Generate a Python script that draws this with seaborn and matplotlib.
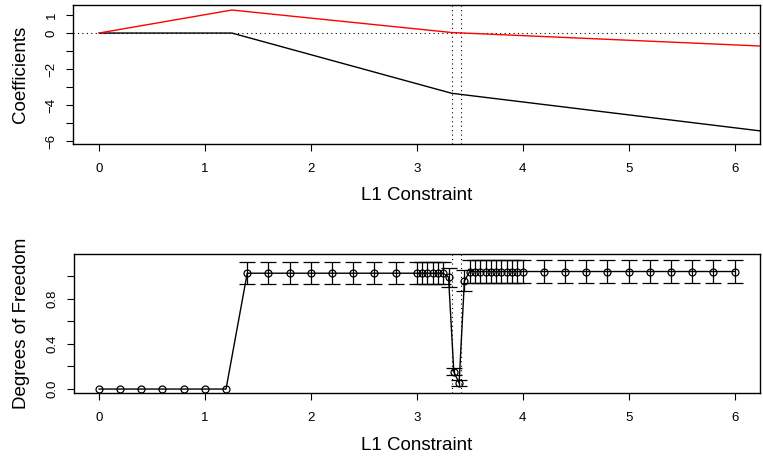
import matplotlib
matplotlib.use("Agg")
import matplotlib.pyplot as plt
import seaborn as sns
import pandas as pd

# ---------------- data ----------------
# top panel: coefficient paths vs L1 constraint
path_l1 = [0.0, 1.255, 3.33, 6.24]
coef_black = [0.0, 0.0, -3.35, -5.44]
coef_red = [0.0, 1.28, 0.03, -0.72]
knots = [3.33, 3.42]

# bottom panel: degrees of freedom with error bars
df_l1 = [0.0, 0.2, 0.4, 0.6, 0.8, 1.0, 1.2,
         1.4, 1.6, 1.8, 2.0, 2.2, 2.4, 2.6, 2.8,
         3.0, 3.05, 3.1, 3.15, 3.2, 3.25, 3.3, 3.35, 3.4, 3.45,
         3.5, 3.55, 3.6, 3.65, 3.7, 3.75, 3.8, 3.85, 3.9, 3.95, 4.0,
         4.2, 4.4, 4.6, 4.8, 5.0, 5.2, 5.4, 5.6, 5.8, 6.0]
df_mean = [0, 0, 0, 0, 0, 0, 0,
           1.025, 1.025, 1.025, 1.025, 1.025, 1.025, 1.025, 1.025,
           1.025, 1.025, 1.025, 1.025, 1.025, 1.025, 0.99, 0.153, 0.053, 0.958,
           1.04, 1.04, 1.04, 1.04, 1.04, 1.04, 1.04, 1.04, 1.04, 1.04, 1.04,
           1.04, 1.04, 1.04, 1.04, 1.04, 1.04, 1.04, 1.04, 1.04, 1.04]
df_se = [0, 0, 0, 0, 0, 0, 0,
         0.097, 0.097, 0.097, 0.097, 0.097, 0.097, 0.097, 0.097,
         0.097, 0.097, 0.097, 0.097, 0.097, 0.097, 0.085, 0.033, 0.03, 0.093,
         0.10, 0.10, 0.10, 0.10, 0.10, 0.10, 0.10, 0.10, 0.10, 0.10, 0.10,
         0.10, 0.10, 0.10, 0.10, 0.10, 0.10, 0.10, 0.10, 0.10, 0.10]

top_yticks = [-6, -5, -4, -3, -2, -1, 0, 1]
top_ylabels = ["\u22126", "", "\u22124", "", "\u22122", "", "0", "1"]
bot_yticks = [0.0, 0.2, 0.4, 0.6, 0.8, 1.0]
bot_ylabels = ["0.0", "", "0.4", "", "0.8", ""]
xticks = [0, 1, 2, 3, 4, 5, 6]

# ---------------- style ----------------
sns.set_theme(style="ticks")
plt.rcParams["font.family"] = ["Liberation Sans", "DejaVu Sans"]
plt.rcParams["axes.linewidth"] = 1.0

W, H = 763, 459
fig = plt.figure(figsize=(W / 100, H / 100), dpi=100)


def px_axes(left, top, right, bottom):
    return fig.add_axes([left / W, 1 - bottom / H, (right - left) / W, (bottom - top) / H])


def style_axes(ax, yticks, ylabels, xlabel, ylabel, box_h, box_w):
    for s in ax.spines.values():
        s.set_visible(True)
        s.set_color("black")
        s.set_linewidth(1.0)
    ax.set_xticks(xticks)
    ax.set_xticklabels([str(t) for t in xticks])
    ax.set_yticks(yticks)
    ax.set_yticklabels(ylabels)
    ax.tick_params(axis="both", direction="out", length=5, width=0.8,
                   color="black", labelsize=9.5, labelcolor="black")
    ax.tick_params(axis="x", pad=9)
    ax.tick_params(axis="y", pad=6, labelrotation=90)
    for lab in ax.get_yticklabels():
        lab.set_va("center")
    ax.set_xlabel(xlabel, fontsize=13.5, color="black")
    ax.set_ylabel(ylabel, fontsize=13.5, color="black")
    ax.xaxis.set_label_coords(0.5, -52 / box_h)
    ax.xaxis.label.set_va("center")
    ax.yaxis.set_label_coords(-52 / box_w, 0.5)
    ax.yaxis.label.set_va("center")
    ax.yaxis.label.set_ha("center")
    ax.grid(False)
    ax.set_facecolor("white")


# ---------------- top panel ----------------
ax1 = px_axes(73, 5, 760, 144)
top_df = pd.DataFrame({"l1": path_l1, "black": coef_black, "red": coef_red})
ax1.axhline(0, color="black", lw=0.8, ls=(0, (1, 3)), zorder=1)
for k in knots:
    ax1.axvline(k, color="black", lw=0.8, ls=(0, (1, 3)), zorder=1)
sns.lineplot(data=top_df, x="l1", y="black", color="black", lw=1.0,
             estimator=None, sort=False, ax=ax1, zorder=3)
sns.lineplot(data=top_df, x="l1", y="red", color="red", lw=1.0,
             estimator=None, sort=False, ax=ax1, zorder=3)
ax1.set_xlim(-0.245, 6.24)
ax1.set_ylim(-6.17, 1.56)
style_axes(ax1, top_yticks, top_ylabels, "L1 Constraint", "Coefficients", 139, 687)

# ---------------- bottom panel ----------------
ax2 = px_axes(74, 254, 760, 393)
bot_df = pd.DataFrame({"l1": df_l1, "df": df_mean, "se": df_se})
for k in knots:
    ax2.axvline(k, color="black", lw=0.8, ls=(0, (1, 3)), zorder=1)
sns.lineplot(data=bot_df, x="l1", y="df", color="black", lw=1.0,
             estimator=None, sort=False, marker="o", markersize=5,
             markerfacecolor="none", markeredgecolor="black",
             markeredgewidth=0.9, ax=ax2, zorder=3)
eb = bot_df[bot_df["se"] > 0]
ax2.errorbar(eb["l1"], eb["df"], yerr=eb["se"], fmt="none", ecolor="black",
             elinewidth=0.9, capsize=5.7, capthick=0.9, zorder=2)
ax2.set_xlim(-0.235, 6.24)
ax2.set_ylim(-0.035, 1.195)
style_axes(ax2, bot_yticks, bot_ylabels, "L1 Constraint", "Degrees of Freedom", 139, 686)

fig.savefig("out.png", dpi=100, facecolor="white")
